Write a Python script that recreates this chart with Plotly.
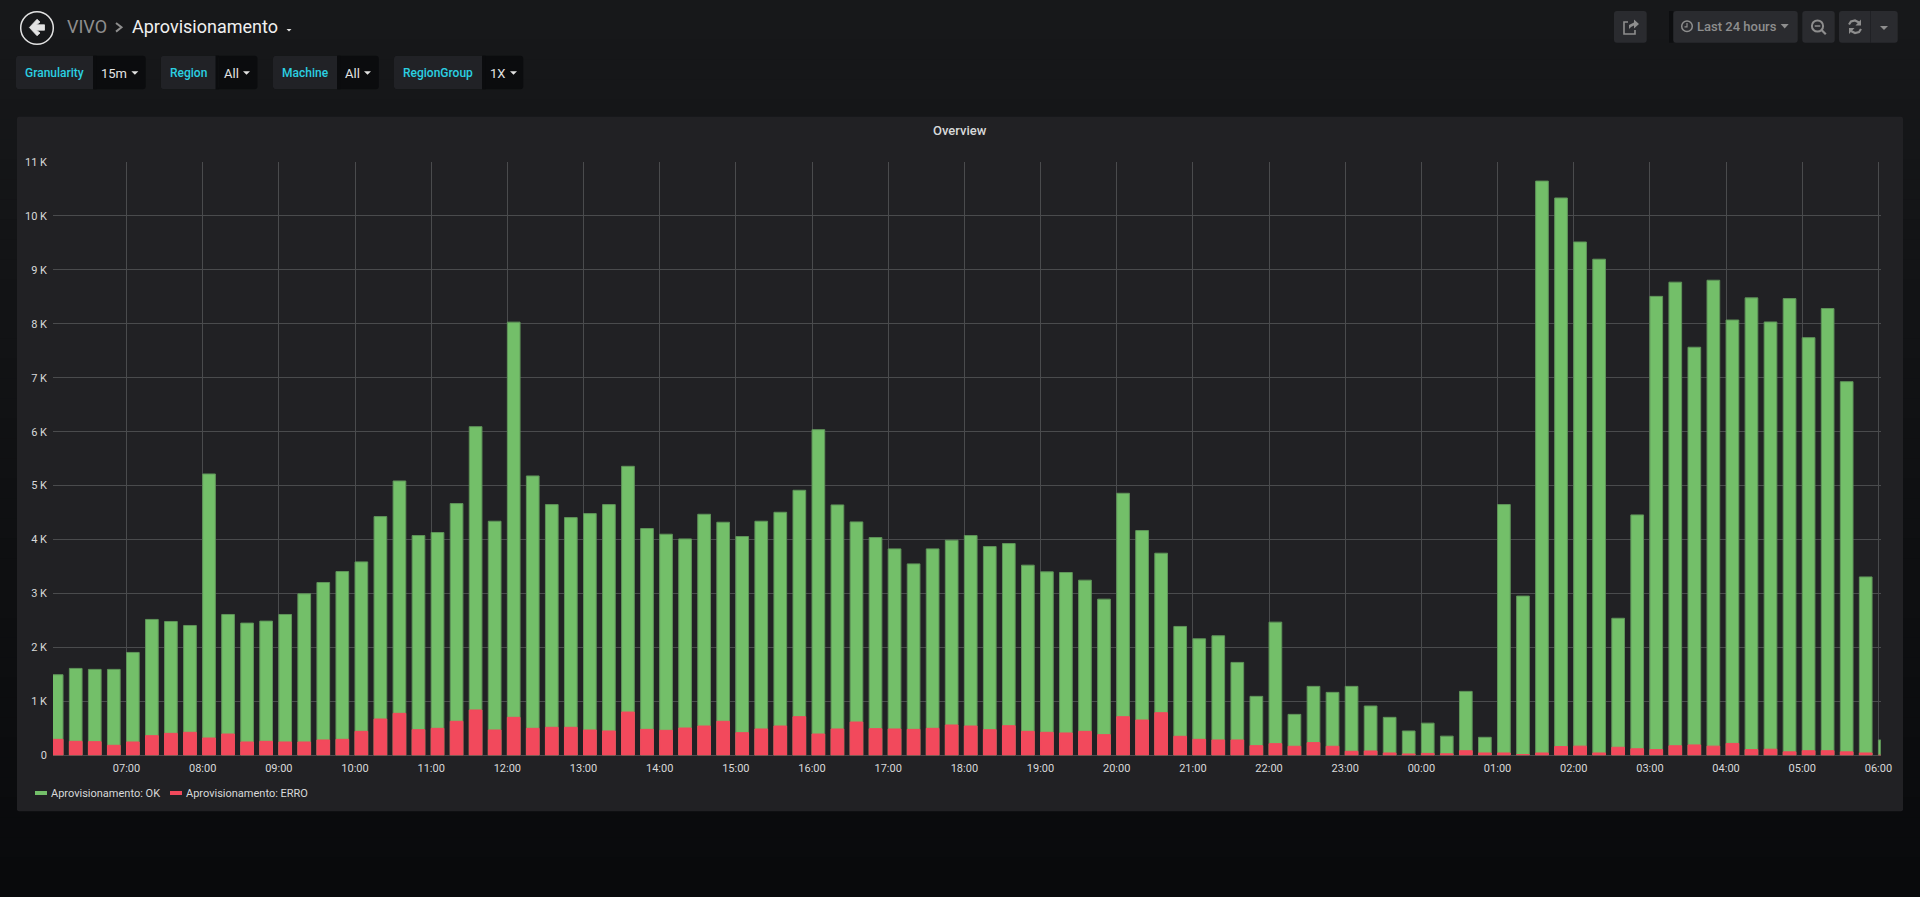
import plotly.graph_objects as go
import pandas as pd

# ---- data ----
start_time = "2020-01-01 06:00"
ok_values = [1494,1611,1593,1593,1907,2519,2481,2407,5216,2611,2451,2488,2611,2994,3204,3407,3586,4426,5086,4074,4130,4667,6093,4340,
             8031,5179,4648,4407,4481,4648,5358,4204,4099,4012,4469,4321,4056,4340,4506,4914,6037,4642,4327,4037,3827,3549,3827,3988,
             4074,3870,3926,3525,3401,3389,3247,2895,4858,4167,3747,2389,2160,2216,1722,1093,2469,759,1278,1167,1278,914,704,451,
             596,355,1185,334,4649,2952,10646,10333,9517,9198,2541,4457,8509,8772,7566,8808,8070,8481,8034,8467,7743,8283,6927,3307,284]
erro_values = [296,259,253,185,247,364,407,426,321,395,247,259,247,247,284,296,444,673,778,475,500,630,840,469,
               704,500,519,519,469,451,802,481,463,506,543,630,420,488,543,716,395,488,617,494,488,481,500,562,
               543,475,549,444,426,414,444,383,716,654,790,352,296,284,284,179,216,167,235,167,74,80,43,25,
               35,28,85,43,43,14,43,163,170,43,149,121,106,177,192,170,220,106,113,64,85,85,64,43,0]
y_ticks = [0,1000,2000,3000,4000,5000,6000,7000,8000,9000,10000,11000]
y_labels = ["0","1 K","2 K","3 K","4 K","5 K","6 K","7 K","8 K","9 K","10 K","11 K"]
x_ticks = pd.date_range("2020-01-01 07:00", "2020-01-02 06:00", freq="1h")
x_labels = [t.strftime("%H:%M") for t in x_ticks]
series_names = ["Aprovisionamento: OK", "Aprovisionamento: ERRO"]
variables = [("Granularity","15m"),("Region","All"),("Machine","All"),("RegionGroup","1X")]
panel_title = "Overview"

times = pd.date_range(start_time, periods=len(ok_values), freq="15min")

W, H = 1920, 897
PL, PR, PT, PB = 53.0, 1880.7, 162.0, 755.3
GREEN, RED = "#73bf69", "#f2495c"
FONT = "Roboto"

def X(p): return p / W
def Y(p): return 1 - p / H

shapes, notes = [], []

def rect(x0, y0, x1, y1, fill):
    shapes.append(dict(type="rect", xref="paper", yref="paper", x0=X(x0), x1=X(x1), y0=Y(y0), y1=Y(y1),
                       fillcolor=fill, line=dict(width=0), layer="below"))

def round_rect(x0, y0, x1, y1, fill, left=3, right=3):
    rx, ry = 1 / W, 1 / H
    d = (f"M{X(x0+left)},{Y(y0)} L{X(x1-right)},{Y(y0)} Q{X(x1)},{Y(y0)} {X(x1)},{Y(y0+right)} "
         f"L{X(x1)},{Y(y1-right)} Q{X(x1)},{Y(y1)} {X(x1-right)},{Y(y1)} "
         f"L{X(x0+left)},{Y(y1)} Q{X(x0)},{Y(y1)} {X(x0)},{Y(y1-left)} "
         f"L{X(x0)},{Y(y0+left)} Q{X(x0)},{Y(y0)} {X(x0+left)},{Y(y0)} Z")
    shapes.append(dict(type="path", path=d, xref="paper", yref="paper", fillcolor=fill, line=dict(width=0), layer="below"))

def path(points, fill=None, line=None, lw=0, close=True):
    d = "M" + " L".join(f"{X(a):.5f},{Y(b):.5f}" for a, b in points) + (" Z" if close else "")
    shapes.append(dict(type="path", path=d, xref="paper", yref="paper",
                       fillcolor=fill if fill else "rgba(0,0,0,0)",
                       line=dict(color=line if line else "rgba(0,0,0,0)", width=lw), layer="above"))

def circle(cx, cy, r, line, lw):
    shapes.append(dict(type="circle", xref="paper", yref="paper", x0=X(cx-r), x1=X(cx+r), y0=Y(cy+r), y1=Y(cy-r),
                       line=dict(color=line, width=lw), fillcolor="rgba(0,0,0,0)", layer="above"))

def text(x, y, s, size, color, anchor="left", weight=400):
    notes.append(dict(x=X(x), y=Y(y), xref="paper", yref="paper", text=s, showarrow=False, xanchor=anchor, yanchor="middle",
                      font=dict(family=FONT, size=size, color=color, weight=weight), borderpad=0, borderwidth=0))

def caret(x0, x1, y0, y1, color):
    path([(x0, y0), (x1, y0), ((x0+x1)/2, y1)], fill=color)

# page background: a soft vertical gradient
bands = 45
for i in range(bands):
    t = (i + 0.5) / bands
    c = [round(a + (b - a) * t) for a, b in zip((23, 24, 26), (9, 10, 12))]
    rect(0, H * i / bands, W, H * (i + 1) / bands + 0.5, f"rgb({c[0]},{c[1]},{c[2]})")

# panel
round_rect(17, 116.7, 1903, 811.3, "#212124", 2, 2)
text(960, 130.5, panel_title, 13, "#d8d9da", "center", 500)

# header: back button, breadcrumb
circle(37, 28, 16.3, "#e3e3e3", 1.5)
path([(29.4,27.5),(37,19.3),(40,22),(36.5,24.8),(44.5,24.8),(44.5,30.2),(36.5,30.2),(40,33),(37,35.7)], fill="#e3e3e3", line="#e3e3e3", lw=0.8)
text(67, 27, "VIVO", 18, "#8e8e8e")
path([(116,23),(121.5,27.3),(116,31.6)], line="#8e8e8e", lw=2, close=False)
text(131.8, 27, "Aprovisionamento", 18, "#f0f0f0")
caret(286.5, 291.5, 29, 31.5, "#e3e3e3")

# template variable row
boxes = [(16,93,145.7,54.5,101,131.4),(160.8,215.5,257.5,188,224,243),(273,337,378.8,305,345,364),(394,482,523.3,437.5,490,510)]
for (lab, val), (a, b, c, lab_x, val_x, car_x) in zip(variables, boxes):
    round_rect(a, 55.7, c, 89.3, "#0b0c0e")
    round_rect(a, 55.7, b + 3, 89.3, "#212226")
    rect(b, 55.7, b + 3.2, 89.3, "#0b0c0e")
    text(lab_x, 73, lab, 12, "#2bd0e2", "center", 500)
    text(val_x, 73.5, val, 13, "#e3e3e3")
    caret(car_x, car_x + 7, 71.3, 74.8, "#e3e3e3")

# top right buttons
BTN = "#2a2b2f"; ICON = "#8e8e8e"
round_rect(1614, 11, 1646.7, 42.7, BTN)
rect(1669, 11, 1673.3, 42.7, "#0d0e10")
round_rect(1673.3, 11, 1797.7, 42.7, BTN)
round_rect(1802.3, 11, 1834.7, 42.7, BTN)
round_rect(1839, 11, 1897.7, 42.7, BTN)
rect(1870.3, 11, 1871, 42.7, "#1d1e21")
# share icon
path([(1628,22),(1624,22),(1624,34),(1635,34),(1635,30)], line=ICON, lw=1.6, close=False)
path([(1629,29),(1629,25),(1634,22.5),(1634,19.5),(1639,24),(1634,28.5),(1634,25.5),(1631,27)], fill=ICON)
# time range
circle(1687, 26.3, 5.3, ICON, 1.5)
path([(1687,23),(1687,26.8),(1684.5,26.8)], line=ICON, lw=1.2, close=False)
text(1696.7, 26.5, "Last 24 hours", 13, ICON, weight=500)
caret(1780.7, 1788.7, 24, 28.5, ICON)
# zoom out
circle(1817.5, 26, 5.6, ICON, 2)
path([(1814.7,26),(1820.3,26)], line=ICON, lw=1.5, close=False)
path([(1821.8,30.3),(1825.8,34.3)], line=ICON, lw=2.2, close=False)
# refresh
path([(1849,24.5),(1851,21.5),(1855,20.5),(1859,22.5)], line=ICON, lw=2.2, close=False)
path([(1861,19.5),(1861,25.5),(1855.5,25.5)], fill=ICON)
path([(1861,29),(1859,32),(1855,33),(1851,31)], line=ICON, lw=2.2, close=False)
path([(1849,34),(1849,28),(1854.5,28)], fill=ICON)
caret(1880, 1888, 26, 30, ICON)

# legend
rect(35, 791, 47, 795, GREEN)
text(51, 793, series_names[0], 11, "#d8d9da")
rect(170, 791, 182, 795, RED)
text(186, 793, series_names[1], 11, "#d8d9da")

fig = go.Figure()
ten_minutes = 10 * 60 * 1000
fig.add_bar(x=times, y=ok_values, name=series_names[0], width=ten_minutes, offset=0,
            marker=dict(color=GREEN, line=dict(color="#5f9459", width=1)))
fig.add_bar(x=times, y=erro_values, name=series_names[1], width=ten_minutes, offset=0,
            marker=dict(color=RED, line=dict(color=RED, width=1)))

fig.update_layout(
    width=W, height=H, margin=dict(l=0, r=0, t=0, b=0, pad=0, autoexpand=False), autosize=False,
    barmode="overlay", showlegend=False, paper_bgcolor="#101113", plot_bgcolor="rgba(0,0,0,0)",
    font=dict(family=FONT, color="#d8d9da", size=11),
    shapes=shapes, annotations=notes,
    xaxis=dict(domain=[PL / W, PR / W], type="date", range=["2020-01-01 06:02:06", "2020-01-02 06:01:48"], automargin=False,
               tickmode="array", tickvals=list(x_ticks), ticktext=x_labels, ticks="",
               showgrid=True, gridcolor="#4a4b4d", gridwidth=1, showline=False, zeroline=False,
               tickfont=dict(family=FONT, size=11, color="#d8d9da"), ticklabelstandoff=5, fixedrange=True),
    yaxis=dict(domain=[1 - PB / H, 1 - PT / H], range=[0, 11000], tickmode="array", tickvals=y_ticks, ticktext=y_labels, automargin=False,
               ticks="", showgrid=True, gridcolor="#4a4b4d", gridwidth=1, showline=False, zeroline=True, zerolinecolor="#4a4b4d",
               zerolinewidth=1, tickfont=dict(family=FONT, size=11, color="#d8d9da"), ticklabelstandoff=5, fixedrange=True),
)

fig.write_html("out.html", config=dict(displayModeBar=False, responsive=False),
               post_script="document.body.style.margin='0';document.body.style.overflow='hidden';document.body.style.background='#101113';")
